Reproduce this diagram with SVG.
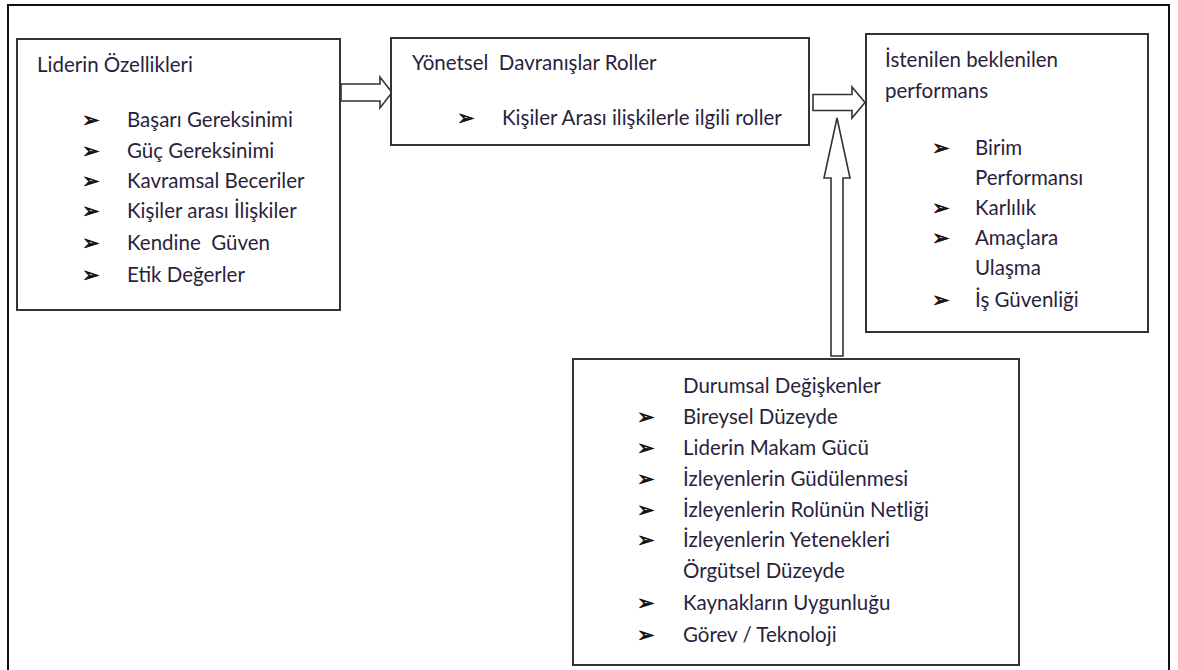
<svg xmlns="http://www.w3.org/2000/svg" width="1178" height="670" viewBox="0 0 1178 670">
  <style>
    .frame { fill: none; stroke: #111; stroke-width: 2; }
    .box { fill: #fff; stroke: #333; stroke-width: 2; }
    .arrow { fill: #fff; stroke: #333; stroke-width: 1.6; stroke-linejoin: miter; }
    text { font-family: Lato, "Open Sans", "Noto Sans", sans-serif; font-size: 20.5px; fill: #2a1f3d; white-space: pre; }
    .bul { font-family: "DejaVu Sans", sans-serif; font-size: 21px; fill: #111; stroke: #111; stroke-width: 0.7; }
  </style>

  <!-- page frame -->
  <rect class="frame" x="8" y="5" width="1161" height="680"/>

  <!-- connectors: block arrows -->
  <g id="connectors">
    <path class="arrow" d="M341,84 H380 V77 L392,92.5 L380,108 V101 H341 Z"/>
    <path class="arrow" d="M813,94.5 H852 V87 L865,102.5 L852,118 V110.5 H813 Z"/>
    <path class="arrow" d="M837,118 L850,178 H843 V356 H831 V178 H824 Z"/>
  </g>

  <!-- leader traits -->
  <g id="node-lider">
    <rect class="box" x="17" y="39" width="323" height="271"/>
    <text x="37" y="72">Liderin Özellikleri</text>
    <text class="bul" x="82" y="127">➢</text><text x="127" y="127">Başarı Gereksinimi</text>
    <text class="bul" x="82" y="158">➢</text><text x="127" y="158">Güç Gereksinimi</text>
    <text class="bul" x="82" y="188">➢</text><text x="127" y="188">Kavramsal Beceriler</text>
    <text class="bul" x="82" y="218">➢</text><text x="127" y="218">Kişiler arası İlişkiler</text>
    <text class="bul" x="82" y="250">➢</text><text x="127" y="250" xml:space="preserve">Kendine  Güven</text>
    <text class="bul" x="82" y="282">➢</text><text x="127" y="282">Etik Değerler</text>
  </g>

  <!-- managerial behaviours -->
  <g id="node-yonetsel">
    <rect class="box" x="391" y="38" width="418" height="107"/>
    <text x="412" y="70" xml:space="preserve">Yönetsel  Davranışlar Roller</text>
    <text class="bul" x="457" y="125">➢</text><text x="502" y="125">Kişiler Arası ilişkilerle ilgili roller</text>
  </g>

  <!-- expected performance -->
  <g id="node-performans">
    <rect class="box" x="866" y="34" width="282" height="298"/>
    <text x="885" y="67">İstenilen beklenilen</text>
    <text x="885" y="98">performans</text>
    <text class="bul" x="932" y="155">➢</text><text x="975" y="155">Birim</text>
    <text x="975" y="185">Performansı</text>
    <text class="bul" x="932" y="215">➢</text><text x="975" y="215">Karlılık</text>
    <text class="bul" x="932" y="245">➢</text><text x="975" y="245">Amaçlara</text>
    <text x="975" y="275">Ulaşma</text>
    <text class="bul" x="932" y="307">➢</text><text x="975" y="307">İş Güvenliği</text>
  </g>

  <!-- situational variables -->
  <g id="node-durumsal">
    <rect class="box" x="573" y="359" width="446" height="306"/>
    <text x="683" y="393">Durumsal Değişkenler</text>
    <text class="bul" x="637" y="424">➢</text><text x="683" y="424">Bireysel Düzeyde</text>
    <text class="bul" x="637" y="455">➢</text><text x="683" y="455">Liderin Makam Gücü</text>
    <text class="bul" x="637" y="486">➢</text><text x="683" y="486">İzleyenlerin Güdülenmesi</text>
    <text class="bul" x="637" y="517">➢</text><text x="683" y="517">İzleyenlerin Rolünün Netliği</text>
    <text class="bul" x="637" y="547">➢</text><text x="683" y="547">İzleyenlerin Yetenekleri</text>
    <text x="683" y="578">Örgütsel Düzeyde</text>
    <text class="bul" x="637" y="610">➢</text><text x="683" y="610">Kaynakların Uygunluğu</text>
    <text class="bul" x="637" y="642">➢</text><text x="683" y="642">Görev / Teknoloji</text>
  </g>
</svg>
